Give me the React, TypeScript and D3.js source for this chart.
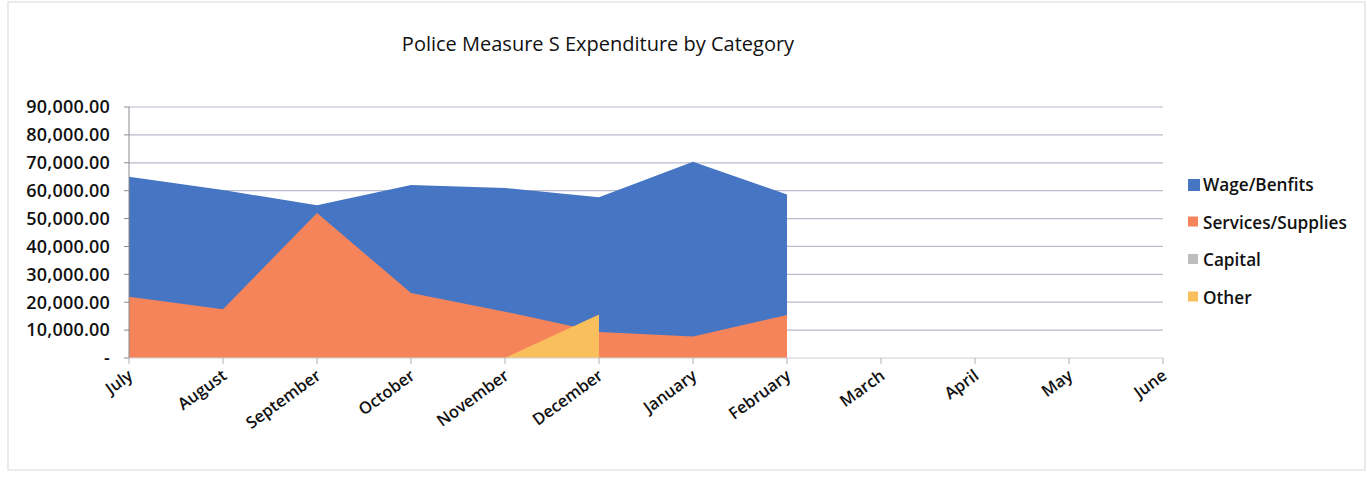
import React from "react";
import * as d3 from "d3";

const months = ["July", "August", "September", "October", "November", "December", "January", "February", "March", "April", "May", "June"];
const wageBenefits: (number | null)[] = [65000, 60200, 54800, 62000, 61000, 57600, 70400, 58600, null, null, null, null];
const servicesSupplies: (number | null)[] = [22000, 17500, 52000, 23300, 16600, 9300, 7700, 15400, null, null, null, null];
const capital: (number | null)[] = [0, 0, 0, 0, 0, 0, 0, 0, null, null, null, null];
const other: (number | null)[] = [null, null, null, null, 0, 15600, null, null, null, null, null, null];
const yTicks = [0, 10000, 20000, 30000, 40000, 50000, 60000, 70000, 80000, 90000];

const seriesList = [
  { name: "Wage/Benfits", values: wageBenefits, color: "#4675C3" },
  { name: "Services/Supplies", values: servicesSupplies, color: "#F6845A" },
  { name: "Capital", values: capital, color: "#BDBDBD" },
  { name: "Other", values: other, color: "#F8BF5C" },
];

export default function App() {
  const W = 1367, H = 479;
  const x = d3.scalePoint<string>().domain(months).range([129, 1163]);
  const y = d3.scaleLinear().domain([0, 90000]).range([358, 107]);
  const font = "'Open Sans', Lato, sans-serif";
  const fmt = (v: number) => (v === 0 ? "-" : d3.format(",.2f")(v));

  const area = d3
    .area<{ m: string; v: number | null }>()
    .defined((d) => d.v !== null)
    .x((d) => x(d.m) as number)
    .y0(y(0))
    .y1((d) => y(d.v as number));

  return (
    <svg width={W} height={H} style={{ position: "absolute", left: 0, top: 0, background: "#fff" }} fontFamily={font}>
      <rect x={8} y={2} width={1357} height={468} fill="#fff" stroke="#d8d8d8" />
      <text x={598} y={51} textAnchor="middle" fontSize={20} fill="#111">
        Police Measure S Expenditure by Category
      </text>
      {yTicks.slice(1).map((t) => (
        <line key={t} x1={129} x2={1163} y1={y(t)} y2={y(t)} stroke="#b8bace" strokeWidth={1.2} />
      ))}
      {seriesList.map((s) => (
        <path key={s.name} d={area(months.map((m, i) => ({ m, v: s.values[i] }))) || ""} fill={s.color} />
      ))}
      <line x1={129} x2={129} y1={107} y2={358} stroke="#8a8a8a" />
      <line x1={129} x2={1163} y1={358} y2={358} stroke="#d0d0d8" />
      {yTicks.map((t) => (
        <g key={t}>
          <line x1={124} x2={129} y1={y(t)} y2={y(t)} stroke="#8a8a8a" />
          <text x={110} y={y(t)} dy="0.35em" textAnchor="end" fontSize={18} fontWeight={600} fill="#111" letterSpacing={0.2}>
            {fmt(t)}
          </text>
        </g>
      ))}
      {months.map((m) => (
        <g key={m}>
          <line x1={x(m)} x2={x(m)} y1={358} y2={364} stroke="#b0b0b0" />
          <text
            transform={`translate(${(x(m) as number) + 5},${378}) rotate(-36)`}
            textAnchor="end"
            fontSize={16.5}
            fontWeight={600}
            fill="#111"
          >
            {m}
          </text>
        </g>
      ))}
      {seriesList.map((s, i) => (
        <g key={s.name} transform={`translate(1188,${185 + i * 37.5})`}>
          <rect x={0} y={-6} width={i === 0 ? 12 : 10} height={i === 0 ? 12 : 10} fill={s.color} />
          <text x={15} y={0} dy="0.35em" fontSize={17.2} fontWeight={600} fill="#111">
            {s.name}
          </text>
        </g>
      ))}
    </svg>
  );
}
